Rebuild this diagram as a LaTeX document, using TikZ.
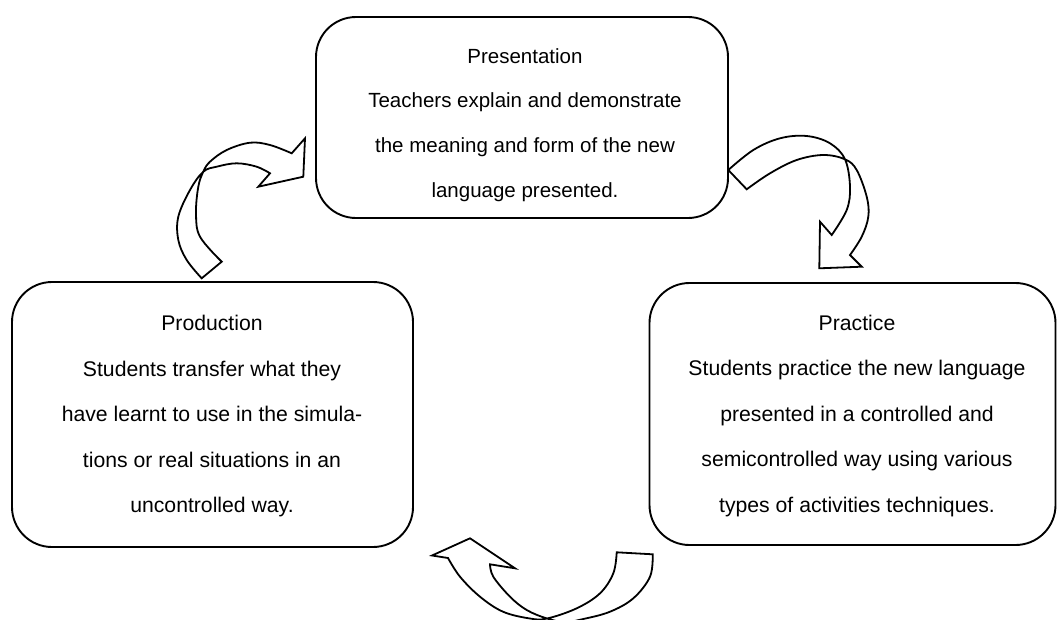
\documentclass[tikz,border=0pt]{standalone}
\usepackage{fontspec}
\setmainfont{Liberation Sans}
\begin{document}
\begin{tikzpicture}[x=1pt,y=-1pt,
  box/.style={draw, line width=1.9pt, rounded corners=40pt, inner sep=0pt},
  txt/.style={align=center, font=\fontsize{20.5}{44.8}\selectfont, inner sep=0pt},
  txtb/.style={align=center, font=\fontsize{21.2}{45.5}\selectfont, inner sep=0pt},
  curvy/.style={draw, fill=white, line width=1.8pt, line join=miter}]
\useasboundingbox (0,0) rectangle (1057,619);
\clip (0,0) rectangle (1057,619);

% boxes
\node[box, minimum width=412pt, minimum height=201pt] (pres) at (522,117.5) {};
\node[box, minimum width=401pt, minimum height=265pt] (prod) at (212.5,414.5) {};
\node[box, minimum width=406pt, minimum height=262pt] (prac) at (852.5,414) {};

% texts
\node[txt] (presT) at (525,125) {Presentation\\Teachers explain and demonstrate\\the meaning and form of the new\\language presented.};
\node[txtb] (prodT) at (212,416.5) {Production\\Students transfer what they\\have learnt to use in the simula-\\tions or real situations in an\\uncontrolled way.};
\node[txtb] (pracT) at (857,416) {Practice\\Students practice the new language\\presented in a controlled and\\semicontrolled way using various\\types of activities techniques.};

% curved arrow: Production -> Presentation
\path[curvy] (201.7,278.3) -- plot[smooth, tension=0.6] coordinates {(201.7,278.3) (186.7,260) (178.3,240) (178.3,216.7) (190,190) (203.3,171.7) (216.7,166.7) (236.7,163.3) (256.7,166.7) (270,173.3)}
  -- (258.3,186.7) -- (303.3,176.7) -- (305,138.3) -- (291.7,153.3)
  -- plot[smooth, tension=0.6] coordinates {(291.7,153.3) (270,145) (250,142.7) (226.7,150) (210,161.7) (203.3,171.7) (198.3,186.7) (196,213.3) (200,236.7) (221.7,261.7)} -- cycle;

% curved arrow: Presentation -> Practice
\path[curvy] (728.3,170) -- plot[smooth, tension=0.6] coordinates {(728.3,170) (753.3,150) (780,138.3) (806.7,136) (830,143.3) (845,159.3) (850,186.7) (846.7,210) (831.7,235)}
  -- (820,221.7) -- (819.3,268.3) -- (861.7,266.7) -- (850,255)
  -- plot[smooth, tension=0.6] coordinates {(850,255) (861.7,236.7) (868.3,216.7) (866.7,196.7) (856.7,170) (845,159.3) (823.3,155) (796.7,160) (770,173.3) (746.7,189.3)} -- cycle;

% curved arrow: Practice -> Production
\path[curvy] (616.7,552.3) -- plot[smooth, tension=0.6] coordinates {(616.7,552.3) (613.3,573.3) (600,593.3) (576.7,608.3) (547,618.5) (530,618.5) (503,611.7) (480,596.7) (460,576.7) (448,558)}
  -- (432,555.5) -- (470,538.3) -- (515,568.3) -- (490,564.3)
  -- plot[smooth, tension=0.6] coordinates {(490,564.3) (493.3,576.7) (510,596.7) (526.7,610) (547,618.5) (565,622) (583.3,619) (610,611.7) (633.3,598.3) (650,576.7) (652.7,554.3)} -- cycle;
\end{tikzpicture}
\end{document}
